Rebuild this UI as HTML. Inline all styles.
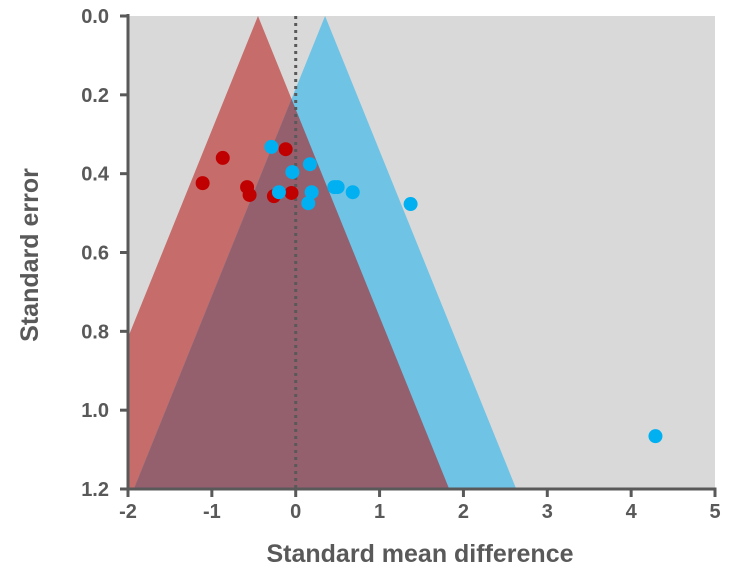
<!DOCTYPE html>
<html><head><meta charset="utf-8"><style>
body{margin:0;background:#fff;}
svg text{font-family:"Liberation Sans",sans-serif;font-weight:bold;fill:#595959;}
</style></head><body>
<svg id="c" width="730" height="576"></svg>
<script>
const xTicks=[-2,-1,0,1,2,3,4,5];
const yTicks=[0.0,0.2,0.4,0.6,0.8,1.0,1.2];
const redCenter=-0.45, blueCenter=0.35;
const redX=[-0.87,-1.11,-0.58,-0.55,-0.26,-0.12,-0.05];
const redY=[0.36,0.424,0.434,0.454,0.457,0.338,0.449];
const blueX=[-0.29,-0.04,0.17,-0.20,0.19,0.15,0.46,0.50,0.68,1.37,4.29];
const blueY=[0.332,0.396,0.376,0.447,0.447,0.475,0.434,0.434,0.447,0.477,1.066];
const L=128,R=715,T=16,B=489;
const sx=v=>L+(v+2)/7*(R-L), sy=v=>T+v/1.2*(B-T);
const svg=document.getElementById('c');const NS='http://www.w3.org/2000/svg';
function mk(t,a,p){const e=document.createElementNS(NS,t);for(const k in a)e.setAttribute(k,a[k]);(p||svg).appendChild(e);return e;}
const defs=mk('defs',{});const cp=mk('clipPath',{id:'cp'},defs);mk('rect',{x:L,y:T,width:R-L,height:B-T},cp);
let e=mk('rect',{x:L,y:T,width:R-L,height:B-T,fill:'#d9d9d9'});


const g=mk('g',{'clip-path':'url(#cp)'});
function funnel(c){return `${sx(c)},${sy(0)} ${sx(c-1.9*1.2)},${sy(1.2)} ${sx(c+1.9*1.2)},${sy(1.2)}`;}
e=mk('polygon',{points:funnel(redCenter),fill:'#c0504d',opacity:0.8},g);


e=mk('polygon',{points:funnel(blueCenter),fill:'#4bbbe8',opacity:0.75},g);


const cp2=mk('clipPath',{id:'cp2'},defs);mk('polygon',{points:funnel(redCenter)},cp2);
e=mk('polygon',{points:funnel(blueCenter),fill:'#94606e','clip-path':'url(#cp2)'},g);


e=mk('line',{x1:sx(0),y1:T,x2:sx(0),y2:B,stroke:'#595959','stroke-width':3,'stroke-dasharray':'3,4'});


redX.forEach((v,i)=>{const c=mk('circle',{cx:sx(v),cy:sy(redY[i]),r:7,fill:'#c00000'});

});
blueX.forEach((v,i)=>{const c=mk('circle',{cx:sx(v),cy:sy(blueY[i]),r:7,fill:'#00b0f0'});

});
e=mk('line',{x1:L,y1:T-2,x2:L,y2:B+1.5,stroke:'#595959','stroke-width':3});


e=mk('line',{x1:L-1.5,y1:B,x2:R+1.5,y2:B,stroke:'#595959','stroke-width':3});


xTicks.forEach(v=>{mk('line',{x1:sx(v),y1:B,x2:sx(v),y2:B+8,stroke:'#595959','stroke-width':3});
const t=mk('text',{x:sx(v),y:B+29,'text-anchor':'middle','font-size':20});t.textContent=v;

});
yTicks.forEach(v=>{mk('line',{x1:L-8,y1:sy(v),x2:L,y2:sy(v),stroke:'#595959','stroke-width':3});
const t=mk('text',{x:L-19,y:sy(v)+7,'text-anchor':'end','font-size':20});t.textContent=v.toFixed(1);

});
e=mk('text',{x:420,y:562,'text-anchor':'middle','font-size':25});e.textContent='Standard mean difference';


e=mk('text',{x:0,y:0,'text-anchor':'middle','font-size':25,transform:'translate(38,255) rotate(-90)'});e.textContent='Standard error';


</script>
</body></html>
